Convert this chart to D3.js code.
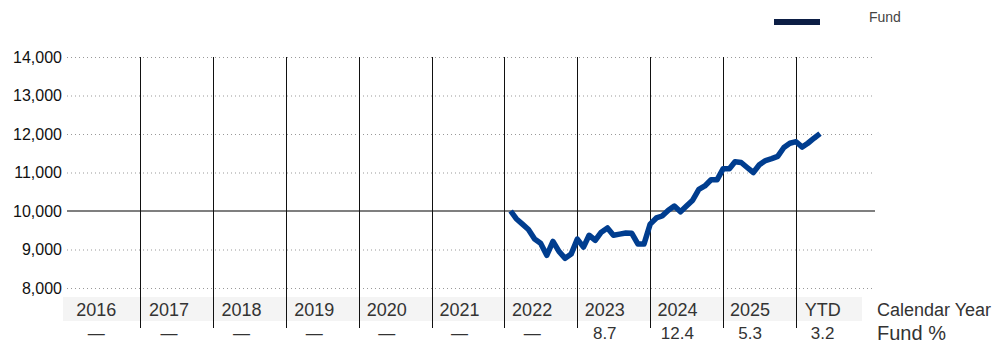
<!DOCTYPE html>

<body style="margin:0">
  <style>
    body {
      font-family: "Liberation Sans", Arial, sans-serif;
      background: #fff;
    }

    .grid line {
      stroke: #999;
      stroke-dasharray: 1, 3;
    }
  </style>
  <div id="chart"></div>
  <script src="https://d3js.org/d3.v7.min.js"></script>
  <script>
    //************* data ************
    // month-end dates (year, month index) and fund growth of 10,000
    var months = [
      [2022, 0], [2022, 1], [2022, 2], [2022, 3], [2022, 4], [2022, 5],
      [2022, 6], [2022, 7], [2022, 8], [2022, 9], [2022, 10], [2022, 11],
      [2023, 0], [2023, 1], [2023, 2], [2023, 3], [2023, 4], [2023, 5],
      [2023, 6], [2023, 7], [2023, 8], [2023, 9], [2023, 10], [2023, 11],
      [2024, 0], [2024, 1], [2024, 2], [2024, 3], [2024, 4], [2024, 5],
      [2024, 6], [2024, 7], [2024, 8], [2024, 9], [2024, 10], [2024, 11],
      [2025, 0], [2025, 1], [2025, 2], [2025, 3], [2025, 4], [2025, 5],
      [2025, 6], [2025, 7], [2025, 8], [2025, 9], [2025, 10], [2025, 11],
      [2026, 0], [2026, 1], [2026, 2], [2026, 3]
    ];
    var fundValues = [
      10000, 9800, 9660, 9520, 9270, 9160, 8850, 9210, 8950, 8770, 8880, 9270,
      9060, 9370, 9240, 9450, 9560, 9370, 9400, 9430, 9420, 9140, 9140, 9660,
      9820, 9870, 10020, 10130, 9980, 10130, 10280, 10560, 10650, 10810, 10810, 11100,
      11100, 11280, 11260, 11130, 11000, 11200, 11310, 11360, 11420, 11650, 11760, 11800,
      11660, 11760, 11890, 12010
    ];
    var yTicks = [8000, 9000, 10000, 11000, 12000, 13000, 14000];
    var yearLabels = ["2016", "2017", "2018", "2019", "2020", "2021", "2022", "2023", "2024", "2025", "YTD"];
    var fundReturns = ["—", "—", "—", "—", "—", "—", "—", "8.7", "12.4", "5.3", "3.2"];
    var dividerYears = [2017, 2018, 2019, 2020, 2021, 2022, 2023, 2024, 2025, 2026];

    var data = months.map(function(m, i) {
      return { date: new Date(m[0], m[1] + 1, 1), val: fundValues[i] };
    });

    var width = 1000,
      height = 343,
      plotLeft = 67,
      plotRight = 875,
      plotTop = 57,
      plotBottom = 288;

    var svg = d3.select("#chart")
      .append("svg")
      .attr("width", width)
      .attr("height", height);

    var x = d3.scaleTime()
      .domain([new Date(2016, 0, 1), new Date(2027, 0, 1)])
      .range([plotLeft, plotLeft + 11 * 72.9]);

    var y = d3.scaleLinear()
      .domain([8000, 14000])
      .range([plotBottom, plotTop]);

    // label band for the year row
    var band = d3.scaleBand()
      .domain(yearLabels)
      .range([60, 859]);

    svg.append("rect")
      .attr("x", 63)
      .attr("y", 297)
      .attr("width", 862 - 63)
      .attr("height", 24)
      .style("fill", "#f4f4f4");

    // dotted gridlines
    svg.append("g")
      .attr("class", "grid")
      .attr("transform", "translate(" + plotLeft + ",0)")
      .call(d3.axisRight(y)
        .tickValues(yTicks.filter(function(d) { return d !== 10000; }))
        .tickSize(plotRight - plotLeft)
        .tickFormat(""))
      .call(function(g) { g.select(".domain").remove(); });

    // y labels
    svg.append("g")
      .attr("transform", "translate(" + (plotLeft + 4) + ",0)")
      .call(d3.axisLeft(y)
        .tickValues(yTicks)
        .tickSize(0)
        .tickPadding(9)
        .tickFormat(d3.format(",")))
      .call(function(g) {
        g.select(".domain").remove();
        g.selectAll("text")
          .style("font-size", "16px")
          .style("font-family", "'Liberation Sans', Arial, sans-serif")
          .style("fill", "#111");
      });

    // 10,000 baseline
    svg.append("line")
      .attr("x1", plotLeft)
      .attr("x2", plotRight)
      .attr("y1", y(10000))
      .attr("y2", y(10000))
      .style("stroke", "#555")
      .style("stroke-width", 1.3);

    // year dividers
    svg.selectAll(".divider")
      .data(dividerYears)
      .enter().append("line")
      .attr("class", "divider")
      .attr("x1", function(d) { return Math.round(x(new Date(d, 0, 1))) + 0.5; })
      .attr("x2", function(d) { return Math.round(x(new Date(d, 0, 1))) + 0.5; })
      .attr("y1", plotTop)
      .attr("y2", 328)
      .style("stroke", "#111")
      .style("stroke-width", 1);

    // fund line
    var line = d3.line()
      .x(function(d) { return x(d.date); })
      .y(function(d) { return y(d.val); });

    svg.append("path")
      .datum(data)
      .attr("d", line)
      .style("fill", "none")
      .style("stroke", "#003d8f")
      .style("stroke-width", 5.5)
      .style("stroke-linejoin", "round");

    // year labels and returns
    svg.selectAll(".year")
      .data(yearLabels)
      .enter().append("text")
      .attr("class", "year")
      .attr("x", function(d) { return band(d) + band.bandwidth() / 2; })
      .attr("y", 316)
      .attr("text-anchor", "middle")
      .style("font-size", "18px")
      .style("fill", "#333")
      .text(function(d) { return d; });

    svg.selectAll(".ret")
      .data(fundReturns)
      .enter().append("text")
      .attr("class", "ret")
      .attr("x", function(d, i) { return band(yearLabels[i]) + band.bandwidth() / 2; })
      .attr("y", 339)
      .attr("text-anchor", "middle")
      .style("font-size", "17px")
      .style("fill", "#333")
      .text(function(d) { return d; });

    svg.append("text")
      .attr("x", 877)
      .attr("y", 316)
      .style("font-size", "18px")
      .style("fill", "#333")
      .text("Calendar Year");

    svg.append("text")
      .attr("x", 877)
      .attr("y", 340)
      .style("font-size", "20px")
      .style("fill", "#333")
      .text("Fund %");

    // legend
    svg.append("rect")
      .attr("x", 774)
      .attr("y", 19)
      .attr("width", 46)
      .attr("height", 6)
      .style("fill", "#0c1e45");

    svg.append("text")
      .attr("x", 869)
      .attr("y", 22)
      .style("font-size", "14px")
      .style("fill", "#444")
      .text("Fund");
  </script>
</body>
